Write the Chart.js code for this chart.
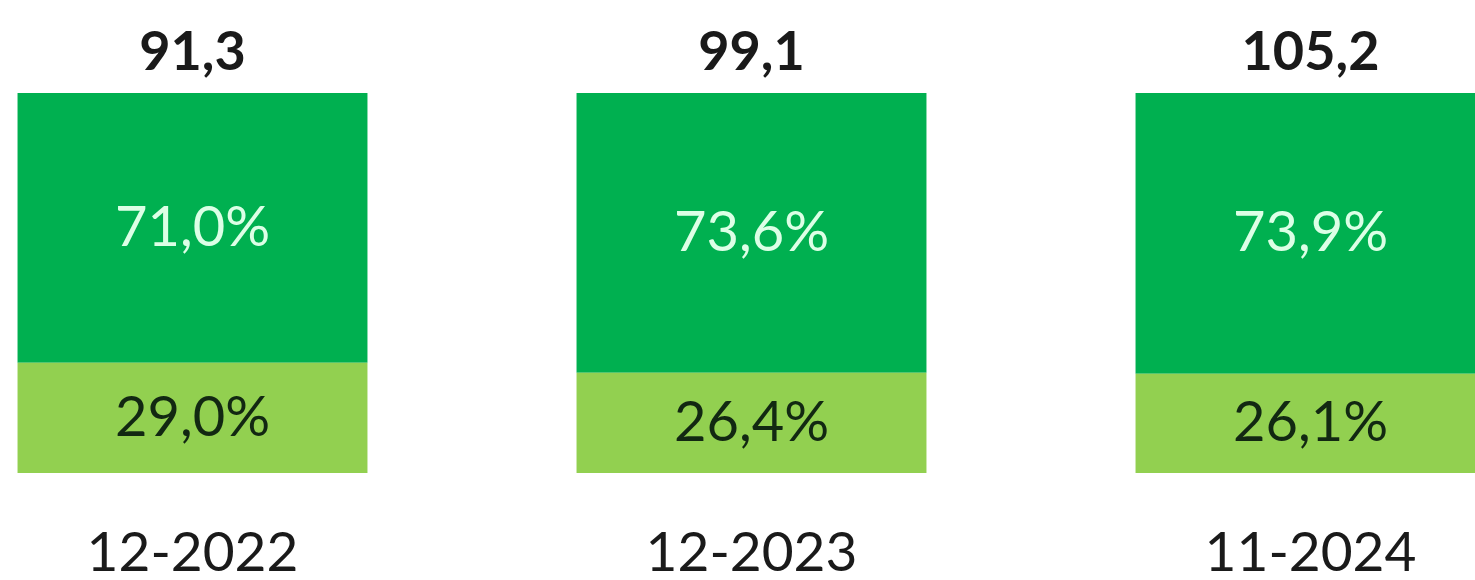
<!DOCTYPE html>
<html>
<head>
<meta charset="utf-8">
<script src="https://cdn.jsdelivr.net/npm/chart.js@4.4.1/dist/chart.umd.min.js"></script>
<style>
  html, body { margin: 0; padding: 0; background: #fff; overflow: hidden; }
  #wrap { position: absolute; left: -87px; top: 0; width: 1677px; height: 633px; }
</style>
</head>
<body>
<div id="wrap"><canvas id="chart"></canvas></div>
<script>
const periods = ['12-2022', '12-2023', '11-2024'];
const totals = [91.3, 99.1, 105.2];
const shareTop = [71.0, 73.6, 73.9];
const shareBottom = [29.0, 26.4, 26.1];

const fontFamily = 'Lato, "Open Sans", sans-serif';

function fmt(v, digits) {
  return v.toFixed(digits).replace('.', ',');
}

// draws the values inside the bars and the totals above them
const labelPlugin = {
  id: 'barLabels',
  afterDatasetsDraw(chart) {
    const ctx = chart.ctx;
    ctx.save();
    ctx.textAlign = 'center';
    ctx.textBaseline = 'middle';
    chart.data.datasets.forEach((ds, i) => {
      const meta = chart.getDatasetMeta(i);
      meta.data.forEach((bar, j) => {
        const mid = (bar.y + bar.base) / 2;
        ctx.font = '56px ' + fontFamily;
        ctx.fillStyle = ds.labelColor;
        ctx.fillText(fmt(ds.data[j], 1) + '%', bar.x, mid);
      });
    });
    const topMeta = chart.getDatasetMeta(chart.data.datasets.length - 1);
    topMeta.data.forEach((bar, j) => {
      ctx.font = 'bold 54px ' + fontFamily;
      ctx.fillStyle = '#1a1a1a';
      ctx.fillText(fmt(totals[j], 1), bar.x, bar.y - 40);
    });
    ctx.restore();
  }
};

new Chart(document.getElementById('chart'), {
  type: 'bar',
  data: {
    labels: periods,
    datasets: [
      {
        label: 'Bottom',
        data: shareBottom,
        backgroundColor: '#92D050',
        labelColor: '#122812',
        categoryPercentage: 1,
        barPercentage: 0.626
      },
      {
        label: 'Top',
        data: shareTop,
        backgroundColor: '#00B050',
        labelColor: '#dcffe6',
        categoryPercentage: 1,
        barPercentage: 0.626
      }
    ]
  },
  options: {
    responsive: true,
    maintainAspectRatio: false,
    animation: false,
    layout: { padding: { top: 93, bottom: 0, left: 0, right: 0 } },
    plugins: {
      legend: { display: false },
      tooltip: { enabled: false }
    },
    scales: {
      x: {
        stacked: true,
        grid: { display: false, drawTicks: false },
        border: { display: false },
        ticks: {
          color: '#1a1a1a',
          padding: 47,
          font: { family: fontFamily, size: 55, lineHeight: 1.2 }
        }
      },
      y: {
        stacked: true,
        display: false,
        min: 0,
        max: 100
      }
    }
  },
  plugins: [labelPlugin]
});
</script>
</body>
</html>
